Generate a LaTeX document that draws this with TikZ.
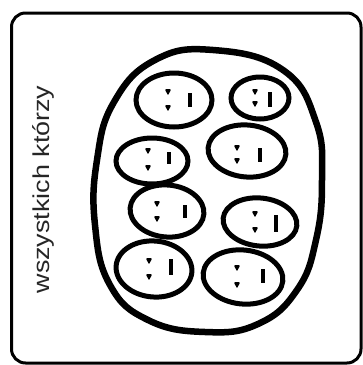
\documentclass[tikz,border=0pt]{standalone}
\usepackage{fontspec}
\setmainfont{Liberation Sans}
\begin{document}
\begin{tikzpicture}[x=1pt,y=-1pt,
  frame/.style={draw=black,line width=3pt,rounded corners=14pt},
  crowd/.style={draw=black,line width=6.5pt},
  person/.style={draw=black,line width=5pt},
  eye/.style={fill=black},
  mouth/.style={draw=black,line width=3.4pt},
  caption/.style={text=black!85,inner sep=0pt,rotate=90,anchor=base}]
\useasboundingbox (0,0) rectangle (363,365);
\fill[white] (0,0) rectangle (363,365);
% outer card
\draw[frame] (11.5,13) rectangle (361,363);
% caption along the left side
\node[caption] (label) at (49.5,189.5) {\scalebox{1.17}[1]{\fontsize{23pt}{27pt}\selectfont wszystkich którzy}};
% the group enclosing everyone
\draw[crowd] plot[smooth cycle,tension=0.75] coordinates {
  (213,50) (283,70) (316,122) (322,180) (316,240) (297,290) (258,324)
  (205,332) (148,320) (110,285) (95,225) (97,160) (114,102) (155,60)};
% people in the group
\draw[person] (174,100) ellipse [x radius=38,y radius=27];
\draw[person] (260,98) ellipse [x radius=29,y radius=21];
\draw[person] (152,161) ellipse [x radius=36,y radius=23];
\draw[person,rotate around={-5:(247,151)}] (247,151) ellipse [x radius=39,y radius=26];
\draw[person,rotate around={-5:(167,211)}] (167,211) ellipse [x radius=37,y radius=26];
\draw[person,rotate around={-6:(260,222)}] (260,222) ellipse [x radius=37,y radius=24];
\draw[person,rotate around={-5:(154,269)}] (154,269) ellipse [x radius=38,y radius=28];
\draw[person,rotate around={-6:(243,277)}] (243,277) ellipse [x radius=40,y radius=27];
% eyes
\foreach \ex/\ea/\eb in {168/92/108, 255/92/104, 148/151/168, 237/148/161,
                         157/204/219, 255/214/230, 149/261/277, 237/268/285}{
  \fill[eye,rounded corners=1pt] (\ex-3.2,\ea-2.8) -- (\ex+3.2,\ea-2.8) -- (\ex,\ea+3.4) -- cycle;
  \fill[eye,rounded corners=1pt] (\ex-3.2,\eb-2.8) -- (\ex+3.2,\eb-2.8) -- (\ex,\eb+3.4) -- cycle;}
% mouths
\foreach \mx/\ma/\mb in {190/93/107, 270/92/107, 169/152/164, 260/148/162,
                         185/205/218, 276/215/232, 171/259/275, 263/269/283}{
  \draw[mouth] (\mx,\ma) -- (\mx,\mb);}
\end{tikzpicture}
\end{document}
